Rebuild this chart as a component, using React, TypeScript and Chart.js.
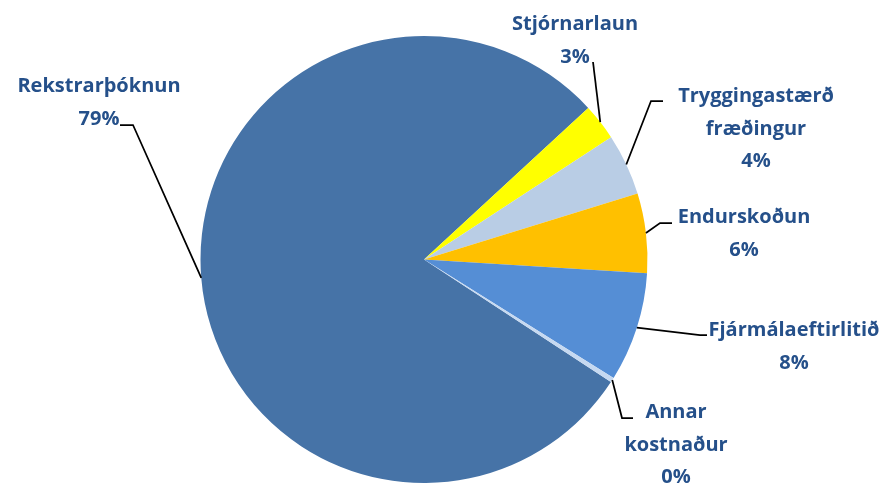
import React, { useEffect, useRef } from "react";
import { Chart, registerables } from "chart.js";

Chart.register(...registerables);

const categories = [
  "Rekstrarþóknun",
  "Stjórnarlaun",
  "Tryggingastærðfræðingur",
  "Endurskoðun",
  "Fjármálaeftirlitið",
  "Annar kostnaður",
];
const labelLines = [
  ["Rekstrarþóknun"],
  ["Stjórnarlaun"],
  ["Tryggingastærð", "fræðingur"],
  ["Endurskoðun"],
  ["Fjármálaeftirlitið"],
  ["Annar", "kostnaður"],
];
const shares = [78.9, 2.65, 4.45, 5.75, 7.9, 0.35];
const colors = ["#4673A7", "#FFFF00", "#B9CDE5", "#FFC000", "#558ED5", "#C6D9F1"];

// label placement: text centre x, first baseline, elbow point, line end point
const placements = [
  { cx: 99, by: 92, elbow: [133, 125], end: [120, 125] },
  { cx: 575, by: 30, elbow: [593, 62], end: null },
  { cx: 756, by: 102, elbow: [651, 101], end: [663, 101] },
  { cx: 744, by: 223, elbow: [660, 223], end: [672, 223] },
  { cx: 794, by: 336, elbow: [700, 335], end: [707, 335] },
  { cx: 676, by: 418, elbow: [622, 418], end: [633, 418] },
];

const labelPlugin = {
  id: "pieLabels",
  afterDatasetsDraw(chart: any) {
    const ctx = chart.ctx;
    const meta = chart.getDatasetMeta(0);
    const data = chart.data.datasets[0].data as number[];
    const total = data.reduce((a, b) => a + b, 0);
    ctx.save();
    meta.data.forEach((arc: any, i: number) => {
      const p = placements[i];
      const { x, y, startAngle, endAngle, outerRadius } = arc.getProps(
        ["x", "y", "startAngle", "endAngle", "outerRadius"],
        true
      );
      const mid = (startAngle + endAngle) / 2;
      const sx = x + Math.cos(mid) * outerRadius;
      const sy = y + Math.sin(mid) * outerRadius;
      ctx.beginPath();
      ctx.strokeStyle = "#000000";
      ctx.lineWidth = 1.75;
      ctx.lineJoin = "miter";
      ctx.moveTo(sx, sy);
      ctx.lineTo(p.elbow[0], p.elbow[1]);
      if (p.end) ctx.lineTo(p.end[0], p.end[1]);
      ctx.stroke();

      ctx.fillStyle = "#25508A";
      ctx.font = "bold 20px 'Open Sans'";
      ctx.textAlign = "center";
      ctx.textBaseline = "alphabetic";
      const lines = [...labelLines[i], Math.round((data[i] / total) * 100) + "%"];
      lines.forEach((t, k) => {
        ctx.fillText(t, p.cx, p.by + k * 32.5);
      });
    });
    ctx.restore();
  },
};

export default function App() {
  const ref = useRef<HTMLCanvasElement | null>(null);
  useEffect(() => {
    if (!ref.current) return;
    const chart = new Chart(ref.current, {
      type: "pie",
      data: {
        labels: categories,
        datasets: [
          {
            data: shares,
            backgroundColor: colors,
            borderWidth: 0,
          },
        ],
      },
      options: {
        responsive: false,
        animation: false,
        rotation: 123.25,
        layout: { padding: { top: 36, bottom: 5, left: 0, right: 39 } },
        plugins: {
          legend: { display: false },
          tooltip: { enabled: false },
        },
      },
      plugins: [labelPlugin],
    });
    return () => chart.destroy();
  }, []);
  return (
    <div style={{ position: "fixed", left: 0, top: 0, width: 887, height: 488, background: "#ffffff" }}>
      <canvas ref={ref} width={887} height={488} style={{ display: "block" }} />
    </div>
  );
}
